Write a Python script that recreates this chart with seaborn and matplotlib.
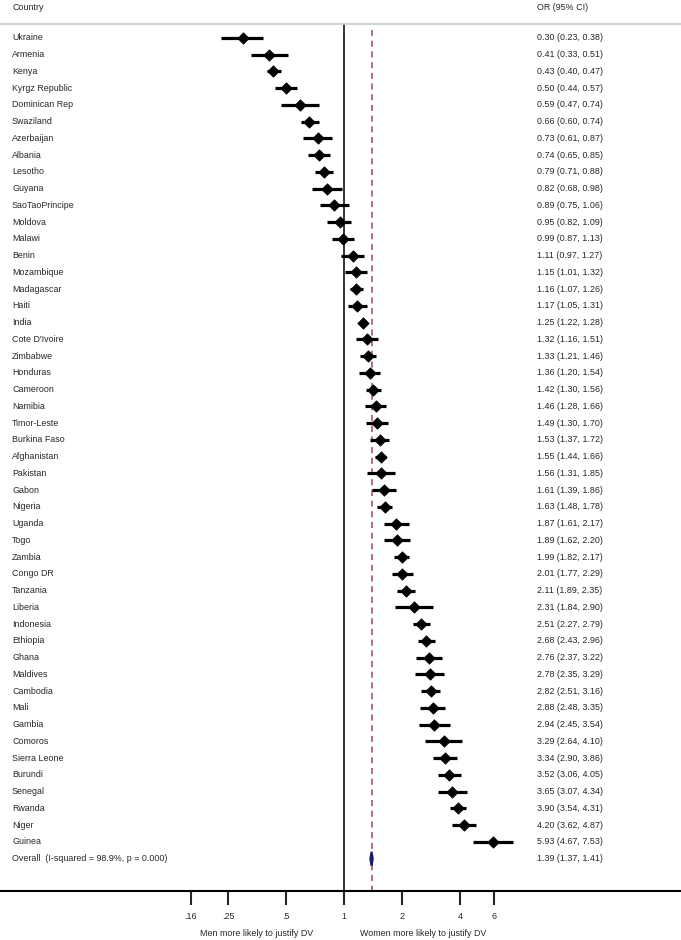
import numpy as np
import pandas as pd
import seaborn as sns
import matplotlib.pyplot as plt
from matplotlib.patches import Polygon

# data
countries = ["Ukraine", "Armenia", "Kenya", "Kyrgz Republic", "Dominican Rep", "Swaziland",
             "Azerbaijan", "Albania", "Lesotho", "Guyana", "SaoTaoPrincipe", "Moldova", "Malawi",
             "Benin", "Mozambique", "Madagascar", "Haiti", "India", "Cote D'Ivoire", "Zimbabwe",
             "Honduras", "Cameroon", "Namibia", "Timor-Leste", "Burkina Faso", "Afghanistan",
             "Pakistan", "Gabon", "Nigeria", "Uganda", "Togo", "Zambia", "Congo DR", "Tanzania",
             "Liberia", "Indonesia", "Ethiopia", "Ghana", "Maldives", "Cambodia", "Mali", "Gambia",
             "Comoros", "Sierra Leone", "Burundi", "Senegal", "Rwanda", "Niger", "Guinea"]
odds = [0.30, 0.41, 0.43, 0.50, 0.59, 0.66, 0.73, 0.74, 0.79, 0.82, 0.89, 0.95, 0.99,
        1.11, 1.15, 1.16, 1.17, 1.25, 1.32, 1.33, 1.36, 1.42, 1.46, 1.49, 1.53, 1.55,
        1.56, 1.61, 1.63, 1.87, 1.89, 1.99, 2.01, 2.11, 2.31, 2.51, 2.68, 2.76, 2.78,
        2.82, 2.88, 2.94, 3.29, 3.34, 3.52, 3.65, 3.90, 4.20, 5.93]
lower = [0.23, 0.33, 0.40, 0.44, 0.47, 0.60, 0.61, 0.65, 0.71, 0.68, 0.75, 0.82, 0.87,
         0.97, 1.01, 1.07, 1.05, 1.22, 1.16, 1.21, 1.20, 1.30, 1.28, 1.30, 1.37, 1.44,
         1.31, 1.39, 1.48, 1.61, 1.62, 1.82, 1.77, 1.89, 1.84, 2.27, 2.43, 2.37, 2.35,
         2.51, 2.48, 2.45, 2.64, 2.90, 3.06, 3.07, 3.54, 3.62, 4.67]
upper = [0.38, 0.51, 0.47, 0.57, 0.74, 0.74, 0.87, 0.85, 0.88, 0.98, 1.06, 1.09, 1.13,
         1.27, 1.32, 1.26, 1.31, 1.28, 1.51, 1.46, 1.54, 1.56, 1.66, 1.70, 1.72, 1.66,
         1.85, 1.86, 1.78, 2.17, 2.20, 2.17, 2.29, 2.35, 2.90, 2.79, 2.96, 3.22, 3.29,
         3.16, 3.35, 3.54, 4.10, 3.86, 4.05, 4.34, 4.31, 4.87, 7.53]
overall_or, overall_lo, overall_hi = 1.39, 1.37, 1.41
overall_label = "Overall  (I-squared = 98.9%, p = 0.000)"
tick_vals = [0.16, 0.25, 0.5, 1, 2, 4, 6]
tick_labels = [".16", ".25", ".5", "1", "2", "4", "6"]

df = pd.DataFrame({"country": countries, "OR": odds, "lo": lower, "hi": upper})
df["row"] = np.arange(len(df))
n = len(df)

sns.set_style("white")
plt.rcParams["font.family"] = ["Liberation Sans", "DejaVu Sans"]
fs = 6.4

fig = plt.figure(figsize=(6.81, 9.40), dpi=100)
# axes spans the whole width; bottom spine sits at y=891 px
ax = fig.add_axes([0, 49 / 940, 1, 891 / 940])

step = 16.75
top_row = -38 / step
bot_row = (891 - 38) / step
ax.set_ylim(bot_row, top_row)
ax.set_xscale("log")
ax.set_xlim(2 ** (-344 / 58), 2 ** ((681 - 344) / 58))

# CIs and point estimates
ax.hlines(df["row"], df["lo"], df["hi"], color="black", lw=2.3, zorder=2)
sns.scatterplot(data=df, x="OR", y="row", marker="D", color="black", s=34,
                edgecolor="black", linewidth=0.5, ax=ax, zorder=3, legend=False)

# pooled estimate diamond
yo = n
diamond = Polygon([(overall_lo, yo), (overall_or, yo - 0.42), (overall_hi, yo),
                   (overall_or, yo + 0.42)], closed=True, facecolor="#1a1a6e",
                  edgecolor="#1a1a6e", lw=1.5, zorder=3)
ax.add_patch(diamond)

# reference lines
header_row = (24 - 38) / step
ax.vlines(1, header_row, bot_row, color="black", lw=1.1, zorder=1)
ax.vlines(overall_or, -0.5, bot_row, color="#9b4a5c", lw=1.1, linestyles=(0, (4, 3)), zorder=1)
ax.axhline(header_row, color="#c8c8c8", lw=1.2)

# text columns
trans = ax.get_yaxis_transform()
xl = 12 / 681
xr = 537 / 681
hdr = (8 - 38) / step
ax.text(xl, hdr, "Country", transform=trans, fontsize=fs, va="center")
ax.text(xr, hdr, "OR (95% CI)", transform=trans, fontsize=fs, va="center")
for _, r in df.iterrows():
    ax.text(xl, r["row"], r["country"], transform=trans, fontsize=fs, va="center")
    ax.text(xr, r["row"], f"{r['OR']:.2f} ({r['lo']:.2f}, {r['hi']:.2f})",
            transform=trans, fontsize=fs, va="center")
ax.text(xl, yo, overall_label, transform=trans, fontsize=fs, va="center")
ax.text(xr, yo, f"{overall_or:.2f} ({overall_lo:.2f}, {overall_hi:.2f})",
        transform=trans, fontsize=fs, va="center")

# x axis
ax.set_xticks(tick_vals)
ax.set_xticklabels(tick_labels, fontsize=fs)
ax.xaxis.set_minor_locator(plt.NullLocator())
ax.tick_params(axis="x", direction="out", length=10, width=1.5, pad=5, bottom=True)
ax.set_yticks([])
ax.set_xlabel("")
ax.set_ylabel("")
for s in ["top", "left", "right"]:
    ax.spines[s].set_visible(False)
ax.spines["bottom"].set_linewidth(1.5)
ax.spines["bottom"].set_color("black")

fig.text(257 / 681, 1 - 933 / 940, "Men more likely to justify DV", ha="center",
         va="center", fontsize=fs)
fig.text(423 / 681, 1 - 933 / 940, "Women more likely to justify DV", ha="center",
         va="center", fontsize=fs)

fig.savefig("out.png", dpi=100)
